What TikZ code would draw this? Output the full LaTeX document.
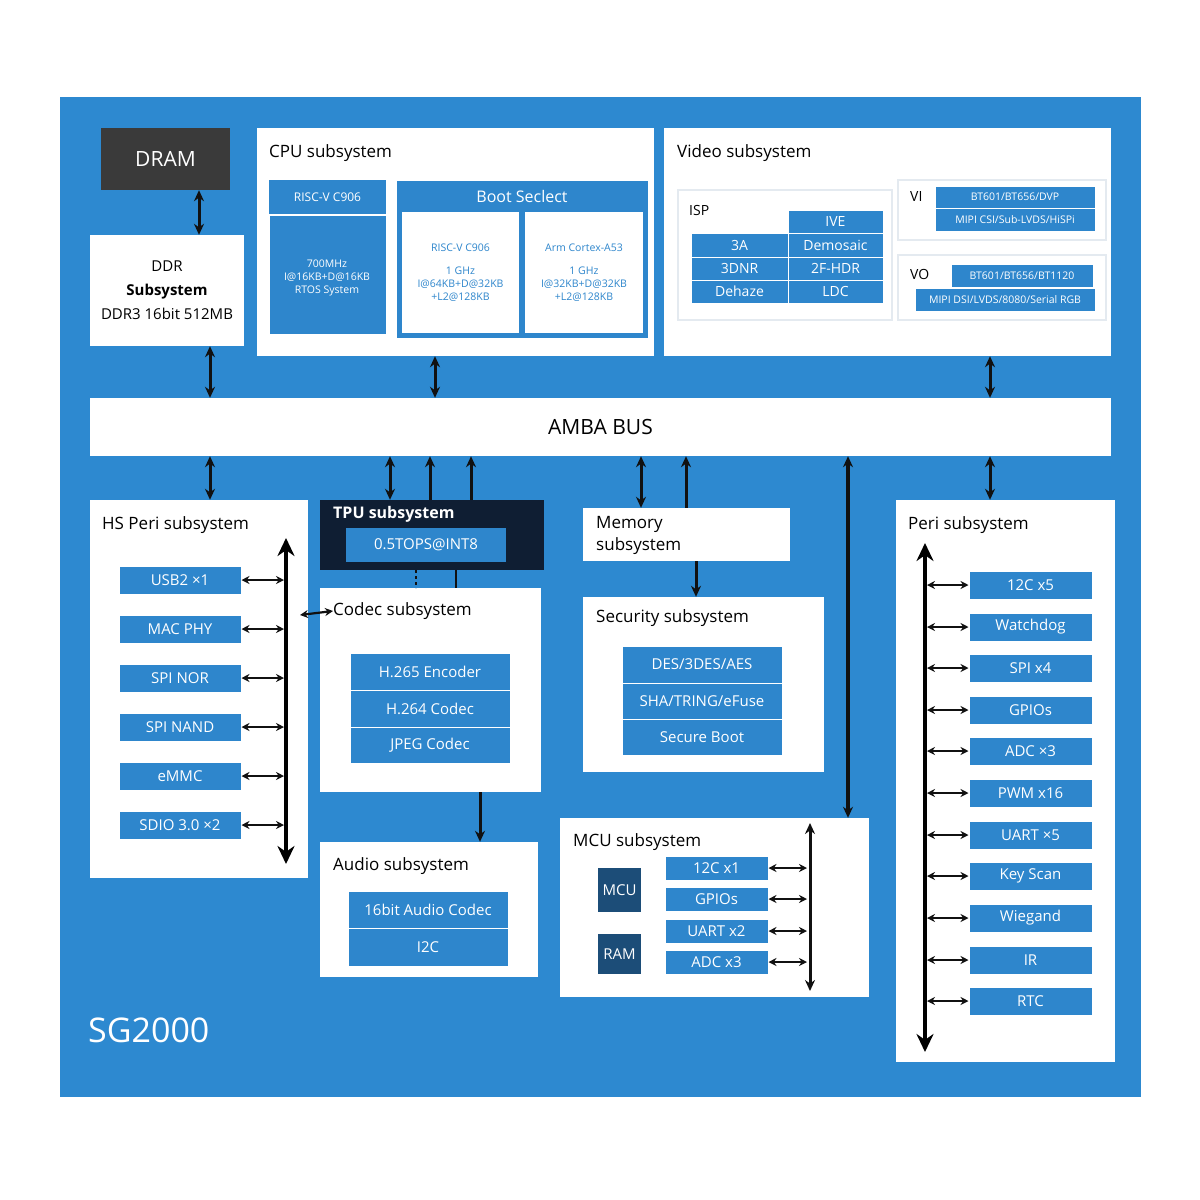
\documentclass[tikz,border=0pt]{standalone}
\usepackage{fontspec}
\setmainfont{Open Sans}
\usetikzlibrary{arrows.meta}
\definecolor{bg}{HTML}{2D89D0}
\definecolor{cell}{HTML}{2E86CC}
\definecolor{dram}{HTML}{3A3A3A}
\definecolor{tpu}{HTML}{0F1E33}
\definecolor{mcub}{HTML}{1C4D78}
\definecolor{ink}{HTML}{111111}
\definecolor{lt}{HTML}{E4EAF0}
\newcommand{\mkbox}[7]{\node[#6,minimum width={((#4)-(#2))*1pt},minimum height={((#5)-(#3))*1pt}] (#1) at ({((#2)+(#4))/2},{((#3)+(#5))/2}) {#7};}
\tikzset{
 x=1pt,y=-1pt,
 wbox/.style={draw=none,fill=white,inner sep=0pt},
 lbox/.style={draw=lt,line width=1.5pt,fill=white,inner sep=0pt},
 cbox/.style={draw=white,line width=1pt,fill=cell,text=white,inner sep=0pt,font=\fontsize{15}{17}\selectfont,align=center},
 sbox/.style={cbox,font=\fontsize{10.5}{13}\selectfont},
 ttl/.style={anchor=west,inner sep=0pt,font=\fontsize{17}{20}\selectfont,text=black},
 bi/.style={{Stealth[length=11pt,width=10pt]}-{Stealth[length=11pt,width=10pt]},line width=3pt,draw=ink},
 bis/.style={{Stealth[length=8pt,width=8pt]}-{Stealth[length=8pt,width=8pt]},line width=2.2pt,draw=ink},
 one/.style={-{Stealth[length=11pt,width=10pt]},line width=3pt,draw=ink},
 big/.style={{Stealth[length=18pt,width=17pt]}-{Stealth[length=18pt,width=17pt]},line width=3.6pt,draw=black},
}
\begin{document}
\begin{tikzpicture}
\useasboundingbox (0,0) rectangle (1200,1200);
\fill[white] (0,0) rectangle (1200,1200);
\fill[bg] (60,97) rectangle (1141,1097);
% DRAM / DDR
\mkbox{dram}{101}{128}{230}{190}{inner sep=0pt,fill=dram,text=white,font=\fontsize{21}{24}\selectfont}{DRAM}
\mkbox{ddr}{90}{235}{244}{346}{wbox,align=center,font=\fontsize{15}{24}\selectfont}{DDR\\\textbf{Subsystem}\\DDR3 16bit 512MB}
% CPU
\mkbox{cpu}{257}{128}{654}{356}{wbox}{}
\node[ttl] (cput) at (269,153) {CPU subsystem};
\mkbox{rv}{269}{180}{386}{334}{cbox}{}
\mkbox{rvh}{269}{180}{386}{215}{sbox,draw=none,font=\fontsize{12}{14}\selectfont}{RISC-V C906}
\draw[white,line width=1.5pt] (269,215) -- (386,215);
\node[sbox,draw=none,fill=none] (rvt) at (327,278) {700MHz\\I@16KB+D@16KB\\RTOS System};
\mkbox{boot}{396}{180}{648}{338}{cbox}{}
\node[cbox,draw=none,fill=none,font=\fontsize{16}{18}\selectfont] (boott) at (522,196) {Boot Seclect};
\mkbox{c906}{402}{212}{519}{333}{wbox,text=cell,align=center,font=\fontsize{10.5}{13}\selectfont}{RISC-V C906\\[10pt]1 GHz\\I@64KB+D@32KB\\+L2@128KB}
\mkbox{a53}{525}{212}{643}{333}{wbox,text=cell,align=center,font=\fontsize{10.5}{13}\selectfont}{Arm Cortex-A53\\[10pt]1 GHz\\I@32KB+D@32KB\\+L2@128KB}
% Video
\mkbox{vid}{664}{128}{1111}{356}{wbox}{}
\node[ttl] (vidt) at (677,153) {Video subsystem};
\mkbox{isp}{678}{190}{892}{320}{lbox}{}
\node[ttl,font=\fontsize{14}{16}\selectfont] (ispt) at (689,210) {ISP};
\mkbox{ive}{788}{210}{883}{233}{cbox,font=\fontsize{14}{16}\selectfont}{IVE}
\mkbox{a3}{691}{233}{788}{257}{cbox,font=\fontsize{14}{16}\selectfont}{3A}
\mkbox{dem}{788}{233}{883}{257}{cbox,font=\fontsize{14}{16}\selectfont}{Demosaic}
\mkbox{dnr}{691}{257}{788}{280}{cbox,font=\fontsize{14}{16}\selectfont}{3DNR}
\mkbox{hdr}{788}{257}{883}{280}{cbox,font=\fontsize{14}{16}\selectfont}{2F-HDR}
\mkbox{deh}{691}{280}{788}{303}{cbox,font=\fontsize{14}{16}\selectfont}{Dehaze}
\mkbox{ldc}{788}{280}{883}{303}{cbox,font=\fontsize{14}{16}\selectfont}{LDC}
\mkbox{vi}{898}{180}{1106}{240}{lbox}{}
\node[ttl,font=\fontsize{14}{16}\selectfont] (vit) at (910,196) {VI};
\mkbox{vi1}{935}{186}{1095}{208}{sbox}{BT601/BT656/DVP}
\mkbox{vi2}{935}{208}{1095}{231}{sbox}{MIPI CSI/Sub-LVDS/HiSPi}
\mkbox{vo}{898}{255}{1106}{320}{lbox}{}
\node[ttl,font=\fontsize{14}{16}\selectfont] (vot) at (910,274) {VO};
\mkbox{vo1}{951}{264}{1093}{287}{sbox}{BT601/BT656/BT1120}
\mkbox{vo2}{915}{288}{1095}{311}{sbox}{MIPI DSI/LVDS/8080/Serial RGB}
% AMBA
\mkbox{amba}{90}{398}{1111}{456}{wbox,font=\fontsize{21}{24}\selectfont}{AMBA BUS}
% HS Peri
\mkbox{hs}{90}{500}{308}{878}{wbox}{}
\node[ttl] (hst) at (102,525) {HS Peri subsystem};
\coordinate (hstop) at (286,538);
\coordinate (hsbot) at (286,864);
\draw[big] (hstop) -- (hsbot);
\foreach \n/\t/\y in {h1/USB2 ×1/580,h2/MAC PHY/629,h3/SPI NOR/678,h4/SPI NAND/727,h5/eMMC/776,h6/SDIO 3.0 ×2/825}{
 \mkbox{\n}{119}{\y-14}{241}{\y+14}{cbox}{\t}
 \coordinate (\n e) at (284,\y);
 \draw[bis] (\n) -- (\n e);
}
% TPU
\mkbox{tpu}{320}{500}{544}{570}{inner sep=0pt,fill=tpu}{}
\node[ttl,text=white,font=\fontsize{16}{18}\selectfont\bfseries] (tput) at (333,514) {TPU subsystem};
\mkbox{tops}{346}{528}{506}{562}{cbox,draw=none}{0.5TOPS@INT8}
% Codec
\mkbox{codec}{320}{588}{541}{792}{wbox}{}
\node[ttl] (codt) at (333,611) {Codec subsystem};
\mkbox{c1}{350}{653}{510}{690}{cbox}{H.265 Encoder}
\mkbox{c2}{350}{690}{510}{727}{cbox}{H.264 Codec}
\mkbox{c3}{350}{727}{510}{763}{cbox}{JPEG Codec}
\draw[ink,line width=2.4pt,dash pattern=on 3pt off 3pt] (416,570) -- (416,588);
\draw[ink,line width=2.4pt] (456,570) -- (456,588);
% Audio
\mkbox{aud}{320}{842}{538}{977}{wbox}{}
\node[ttl] (audt) at (333,866) {Audio subsystem};
\mkbox{a1}{348}{891}{508}{928}{cbox}{16bit Audio Codec}
\mkbox{a2}{348}{928}{508}{966}{cbox}{I2C}
% Memory / Security
\mkbox{mem}{583}{508}{790}{561}{wbox}{}
\node[ttl,align=left,font=\fontsize{17}{22}\selectfont] (memt) at (596,535) {Memory\\subsystem};
\mkbox{sec}{583}{597}{824}{772}{wbox}{}
\node[ttl] (sect) at (596,618) {Security subsystem};
\mkbox{s1}{622}{646}{782}{683}{cbox}{DES/3DES/AES}
\mkbox{s2}{622}{683}{782}{719}{cbox}{SHA/TRING/eFuse}
\mkbox{s3}{622}{719}{782}{755}{cbox}{Secure Boot}
% MCU
\mkbox{mcu}{560}{818}{869}{997}{wbox}{}
\node[ttl] (mcut) at (573,842) {MCU subsystem};
\mkbox{mcub}{598}{868}{641}{912}{inner sep=0pt,fill=mcub,text=white,font=\fontsize{15}{17}\selectfont}{MCU}
\mkbox{ram}{598}{934}{641}{974}{inner sep=0pt,fill=mcub,text=white,font=\fontsize{15}{17}\selectfont}{RAM}
\coordinate (mtop) at (810,823);
\coordinate (mbot) at (810,991);
\draw[bi] (mtop) -- (mbot);
\foreach \n/\t/\y in {m1/12C x1/868,m2/GPIOs/899,m3/UART x2/931,m4/ADC x3/962}{
 \mkbox{\n}{665}{\y-12}{768}{\y+12}{cbox}{\t}
 \coordinate (\n e) at (807,\y);
 \draw[bis] (\n) -- (\n e);
}
% Peri
\mkbox{peri}{896}{500}{1115}{1062}{wbox}{}
\node[ttl] (perit) at (908,525) {Peri subsystem};
\coordinate (ptop) at (925,543);
\coordinate (pbot) at (925,1052);
\draw[big] (ptop) -- (pbot);
\foreach \n/\t/\y in {p1/12C x5/585,p2/Watchdog/627,p3/SPI x4/668,p4/GPIOs/710,p5/ADC ×3/751,p6/PWM x16/793,p7/UART ×5/835,p8/Key Scan/876,p9/Wiegand/918,p10/IR/960,p11/RTC/1001}{
 \mkbox{\n}{969}{\y-14}{1092}{\y+14}{cbox}{\t}
 \coordinate (\n w) at (927,\y);
 \draw[bis] (\n w) -- (\n);
}
\node[anchor=west,inner sep=0pt,text=white,font=\fontsize{34}{38}\selectfont] (sg) at (88,1030) {SG2000};
% connectors
\draw[bi] (dram.south -| 199,0) -- (ddr.north -| 199,0);
\draw[bi] (ddr.south -| 210,0) -- (amba.north -| 210,0);
\draw[bi] (cpu.south -| 435,0) -- (amba.north -| 435,0);
\draw[bi] (vid.south -| 990,0) -- (amba.north -| 990,0);
\draw[bi] (amba.south -| 210,0) -- (hs.north -| 210,0);
\draw[bi] (amba.south -| 390,0) -- (tpu.north -| 390,0);
\draw[one] (tpu.north -| 430,0) -- (amba.south -| 430,0);
\draw[one] (tpu.north -| 471,0) -- (amba.south -| 471,0);
\draw[bi] (amba.south -| 641,0) -- (mem.north -| 641,0);
\draw[one] (mem.north -| 686,0) -- (amba.south -| 686,0);
\draw[one] (mem.south -| 696,0) -- (sec.north -| 696,0);
\draw[one] (codec.south -| 480,0) -- (aud.north -| 480,0);
\draw[bi,line width=3.4pt] (amba.south -| 848,0) -- (mcu.north -| 848,0);
\draw[bi] (amba.south -| 990,0) -- (peri.north -| 990,0);
\coordinate (hsc) at (300,615);
\draw[bis] (hsc) -- (codt.west);
\end{tikzpicture}
\end{document}
